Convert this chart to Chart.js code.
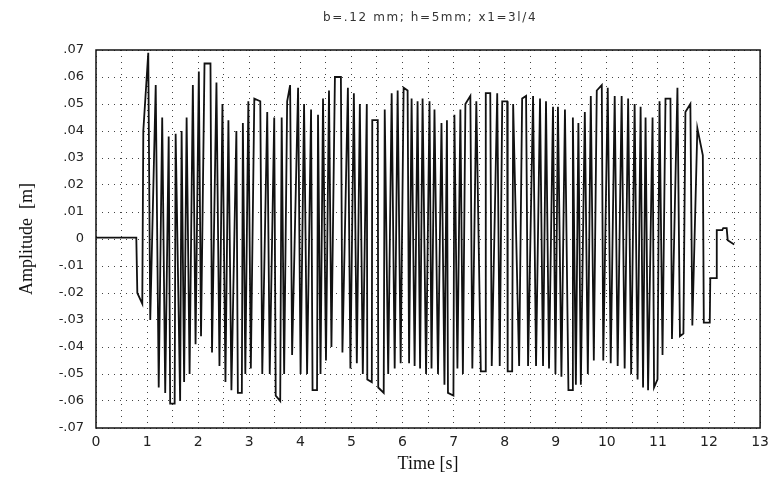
<!DOCTYPE html>
<html>
<head>
<meta charset="utf-8">
<script src="https://cdn.jsdelivr.net/npm/chart.js@4.4.0/dist/chart.umd.min.js"></script>
<style>
  html, body { margin: 0; padding: 0; background: #fff; }
  #wrap { width: 775px; height: 481px; }
</style>
</head>
<body>
<div id="wrap"><canvas id="amp-chart" width="775" height="481"></canvas></div>
<script>
// values: time [s] and amplitude [m] of each turning point
const chartTitle = 'b=.12 mm; h=5mm; x1=3l/4';
const xAxisTitle = 'Time [s]';
const yAxisTitle = 'Amplitude  [m]';

const timeS = [0, 0.789, 0.809, 0.906, 0.926, 1.023, 1.062, 1.169, 1.228, 1.296, 1.355, 1.423, 1.452, 1.540, 1.559, 1.647, 1.676, 1.725, 1.774, 1.832,
  1.896, 1.949, 2.013, 2.056, 2.124, 2.241, 2.271, 2.358, 2.417, 2.475, 2.534, 2.592, 2.651, 2.748, 2.777, 2.855, 2.875, 2.923, 2.982, 3.031,
  3.099, 3.216, 3.255, 3.352, 3.401, 3.489, 3.518, 3.606, 3.635, 3.683, 3.742, 3.800, 3.839, 3.956, 4.005, 4.073, 4.132, 4.210, 4.239, 4.327,
  4.346, 4.395, 4.444, 4.502, 4.561, 4.609, 4.677, 4.794, 4.824, 4.931, 4.980, 5.048, 5.106, 5.165, 5.223, 5.301, 5.311, 5.399, 5.408, 5.516,
  5.525, 5.632, 5.652, 5.720, 5.788, 5.847, 5.905, 5.964, 6.022, 6.100, 6.129, 6.178, 6.237, 6.295, 6.344, 6.393, 6.461, 6.529, 6.568, 6.626,
  6.695, 6.763, 6.821, 6.870, 6.890, 6.997, 7.016, 7.075, 7.133, 7.182, 7.231, 7.328, 7.367, 7.445, 7.533, 7.620, 7.630, 7.718, 7.747, 7.854,
  7.903, 7.952, 8.049, 8.059, 8.147, 8.166, 8.283, 8.342, 8.419, 8.458, 8.556, 8.614, 8.692, 8.751, 8.809, 8.868, 8.946, 8.994, 9.043, 9.111,
  9.180, 9.248, 9.326, 9.335, 9.394, 9.443, 9.491, 9.569, 9.628, 9.686, 9.745, 9.803, 9.901, 9.930, 10.018, 10.076, 10.154, 10.212, 10.290, 10.349,
  10.417, 10.476, 10.544, 10.602, 10.661, 10.709, 10.758, 10.807, 10.895, 10.924, 10.992, 11.031, 11.090, 11.148, 11.245, 11.275, 11.382, 11.431, 11.499, 11.538,
  11.635, 11.674, 11.772, 11.879, 11.898, 12.015, 12.025, 12.142, 12.152, 12.259, 12.278, 12.346, 12.366, 12.493];

const amplitudeM = [0.0005, 0.0005, -0.020, -0.024, 0.040, 0.069, -0.030, 0.057, -0.055, 0.045, -0.057, 0.038, -0.061, -0.061, 0.039, -0.060, 0.040, -0.053, 0.045, -0.050,
  0.057, -0.039, 0.062, -0.036, 0.065, 0.065, -0.042, 0.058, -0.047, 0.050, -0.053, 0.044, -0.056, 0.040, -0.057, -0.057, 0.043, -0.050, 0.051, -0.048,
  0.052, 0.051, -0.050, 0.047, -0.050, 0.045, -0.058, -0.060, 0.045, -0.050, 0.051, 0.057, -0.043, 0.056, -0.050, 0.050, -0.050, 0.048, -0.056, -0.056,
  0.046, -0.050, 0.052, -0.045, 0.055, -0.040, 0.060, 0.060, -0.042, 0.056, -0.048, 0.054, -0.046, 0.050, -0.050, 0.050, -0.052, -0.053, 0.044, 0.044,
  -0.055, -0.057, 0.048, -0.050, 0.054, -0.048, 0.055, -0.046, 0.056, 0.055, -0.046, 0.052, -0.047, 0.051, -0.048, 0.052, -0.050, 0.051, -0.048, 0.048,
  -0.050, 0.043, -0.054, 0.044, -0.057, -0.058, 0.046, -0.048, 0.048, -0.050, 0.050, 0.053, -0.048, 0.051, -0.049, -0.049, 0.054, 0.054, -0.047, 0.054,
  -0.047, 0.051, 0.051, -0.049, -0.049, 0.050, -0.047, 0.052, 0.053, -0.047, 0.053, -0.047, 0.052, -0.047, 0.051, -0.048, 0.049, -0.050, 0.049, -0.051,
  0.048, -0.056, -0.056, 0.045, -0.054, 0.043, -0.054, 0.047, -0.050, 0.053, -0.045, 0.055, 0.057, -0.045, 0.056, -0.046, 0.053, -0.047, 0.053, -0.048,
  0.052, -0.050, 0.050, -0.052, 0.049, -0.055, 0.045, -0.056, 0.045, -0.055, -0.052, 0.051, -0.043, 0.052, 0.052, -0.037, 0.056, -0.036, -0.035, 0.047,
  0.050, -0.032, 0.041, 0.031, -0.031, -0.031, -0.0145, -0.0145, 0.0033, 0.0033, 0.004, 0.004, -0.0005, -0.002];

const xMin = 0, xMax = 13, xStep = 0.5;
const yMin = -0.07, yMax = 0.07, yStep = 0.01;

// formats .07 / 0 / -.01 like the plot
function yLabel(v) {
  let s = v.toFixed(2);
  if (Math.abs(v) < 1e-9) return '0';
  return s.replace('0.', '.');
}

// box round the plot area and the heading above it
const framePlugin = {
  id: 'frame',
  afterDatasetsDraw(chart) {
    const { ctx, chartArea } = chart;
    ctx.save();
    ctx.strokeStyle = '#111';
    ctx.lineWidth = 1.5;
    ctx.strokeRect(chartArea.left, chartArea.top, chartArea.right - chartArea.left, chartArea.bottom - chartArea.top);
    ctx.fillStyle = '#333';
    ctx.font = '12px "DejaVu Sans"';
    ctx.letterSpacing = '1.6px';
    ctx.textAlign = 'center';
    ctx.textBaseline = 'middle';
    ctx.fillText(chartTitle, (chartArea.left + chartArea.right) / 2 + 2, 18);
    ctx.restore();
  }
};

const gridStyle = {
  color: '#444',
  lineWidth: 1,
  drawTicks: false
};

new Chart(document.querySelector('#amp-chart').getContext('2d'), {
  type: 'line',
  data: {
    datasets: [{
      label: 'Amplitude',
      data: timeS.map((t, i) => ({ x: t, y: amplitudeM[i] })),
      borderColor: '#111',
      borderWidth: 1.8,
      pointRadius: 0,
      tension: 0,
      fill: false
    }]
  },
  options: {
    responsive: false,
    animation: false,
    devicePixelRatio: 1,
    layout: { padding: { top: 50, right: 12, left: 0, bottom: 0 } },
    plugins: {
      legend: { display: false },
      tooltip: { enabled: false },
      title: { display: false }
    },
    scales: {
      x: {
        type: 'linear',
        min: xMin,
        max: xMax,
        grid: gridStyle,
        border: { display: false, dash: [1, 5] },
        ticks: {
          stepSize: xStep,
          autoSkip: false,
          maxRotation: 0,
          padding: 6,
          color: '#222',
          font: { family: '"DejaVu Sans"', size: 14 },
          callback: v => Number.isInteger(Math.round(v * 1000) / 1000) ? String(Math.round(v)) : ''
        },
        title: {
          display: true,
          text: xAxisTitle,
          color: '#111',
          font: { family: '"Liberation Serif"', size: 18 },
          padding: { top: 0, bottom: 6 }
        },
        afterFit: s => { s.height = 53; }
      },
      y: {
        min: yMin,
        max: yMax,
        grid: gridStyle,
        border: { display: false, dash: [1, 5] },
        ticks: {
          stepSize: yStep,
          padding: 12,
          color: '#222',
          font: { family: '"DejaVu Sans"', size: 13 },
          callback: v => yLabel(v)
        },
        title: {
          display: true,
          text: yAxisTitle,
          color: '#111',
          font: { family: '"Liberation Serif"', size: 18 },
          padding: { top: 16, bottom: 0 }
        },
        afterFit: s => { s.width = 96; }
      }
    }
  },
  plugins: [framePlugin]
});
</script>
</body>
</html>
